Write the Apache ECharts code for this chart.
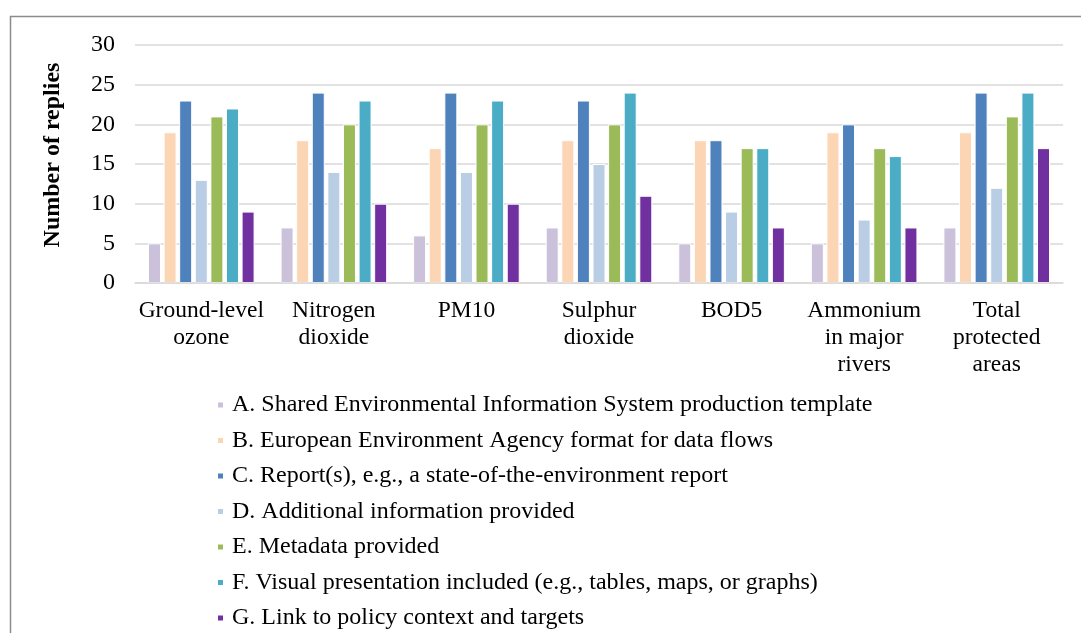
<!DOCTYPE html>
<html>
<head>
<meta charset="utf-8">
<script src="https://cdn.jsdelivr.net/npm/echarts@6/dist/echarts.min.js"></script>
<style>
  html, body { margin: 0; padding: 0; background: #fff; }
  #chart { width: 1081px; height: 633px; }
</style>
</head>
<body>
<div id="chart"></div>
<script>
(function () {
    var categories = ['Ground-level\nozone', 'Nitrogen\ndioxide', 'PM10', 'Sulphur\ndioxide', 'BOD5', 'Ammonium\nin major\nrivers', 'Total\nprotected\nareas'];
    var seriesNames = [
        'A. Shared Environmental Information System production template',
        'B. European Environment Agency format for data flows',
        'C. Report(s), e.g., a state-of-the-environment report',
        'D. Additional information provided',
        'E. Metadata provided',
        'F. Visual presentation included (e.g., tables, maps, or graphs)',
        'G. Link to policy context and targets'
    ];
    var valuesA = [5, 7, 6, 7, 5, 5, 7];
    var valuesB = [19, 18, 17, 18, 18, 19, 19];
    var valuesC = [23, 24, 24, 23, 18, 20, 24];
    var valuesD = [13, 14, 14, 15, 9, 8, 12];
    var valuesE = [21, 20, 20, 20, 17, 17, 21];
    var valuesF = [22, 23, 23, 24, 17, 16, 24];
    var valuesG = [9, 10, 10, 11, 7, 7, 17];
    var allValues = [valuesA, valuesB, valuesC, valuesD, valuesE, valuesF, valuesG];

    var colors = ['#ccc1da', '#fcd5b5', '#4f81bd', '#b9cde5', '#9bbb59', '#4bacc6', '#7030a0'];
    var font = '"Liberation Serif", "Times New Roman", serif';

    var series = seriesNames.map(function (name, i) {
        return {
            name: name,
            type: 'bar',
            barWidth: 13,
            barGap: '20%',
            itemStyle: {
                color: colors[i],
                borderColor: '#ffffff',
                borderWidth: 1
            },
            data: allValues[i]
        };
    });

    var myChart = echarts.init(document.getElementById('chart'));
    var option = {
        color: colors,
        animation: false,
        textStyle: { fontFamily: font, color: '#000' },
        grid: {
            left: 135,
            right: 18,
            top: 45,
            bottom: 350
        },
        graphic: [{
            type: 'rect',
            shape: { x: 10.5, y: 16.5, width: 1200, height: 700 },
            style: { fill: 'none', stroke: '#8c8c8c', lineWidth: 1.5 },
            silent: true
        }],
        legend: {
            orient: 'vertical',
            left: 211,
            top: 388,
            height: 300,
            itemWidth: 7,
            itemHeight: 7,
            itemGap: 11.5,
            icon: 'rect',
            textStyle: {
                fontFamily: font,
                fontSize: 24,
                color: '#000',
                padding: [0, 0, 0, 3]
            },
            data: seriesNames
        },
        xAxis: {
            type: 'category',
            z: 3,
            data: categories,
            axisLine: { lineStyle: { color: '#d9d9d9', width: 1.5 } },
            axisTick: { length: 6, lineStyle: { color: '#d9d9d9', width: 1.5 } },
            axisLabel: {
                interval: 0,
                margin: 14,
                fontFamily: font,
                fontSize: 23.5,
                lineHeight: 27,
                color: '#000'
            }
        },
        yAxis: {
            type: 'value',
            min: 0,
            max: 30,
            interval: 5,
            name: 'Number of replies',
            nameLocation: 'middle',
            nameRotate: 90,
            nameGap: 70,
            nameTextStyle: {
                fontFamily: font,
                fontSize: 24,
                fontWeight: 'bold',
                color: '#000',
                padding: [0, 0, 0, 18]
            },
            axisLine: { show: false },
            axisTick: { show: false },
            axisLabel: {
                margin: 20,
                fontFamily: font,
                fontSize: 24,
                color: '#000'
            },
            splitLine: { lineStyle: { color: '#d9d9d9', width: 1.5 } }
        },
        series: series
    };
    myChart.setOption(option, true);
})();
</script>
</body>
</html>
